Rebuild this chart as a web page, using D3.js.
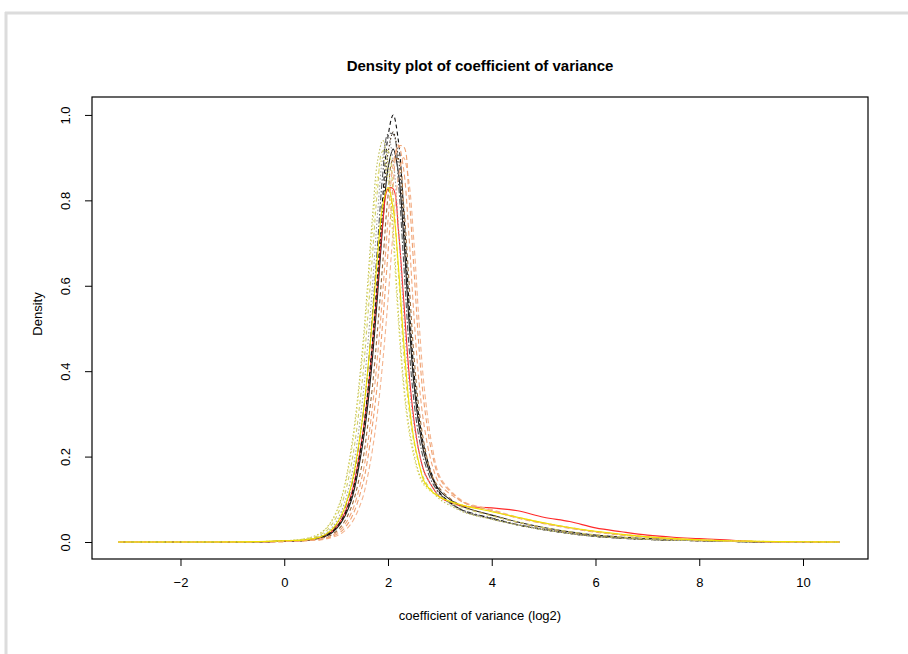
<!DOCTYPE html>
<html>
<head>
<meta charset="utf-8">
<title>Density plot of coefficient of variance</title>
<script src="https://d3js.org/d3.v7.min.js"></script>
<style>
  body { margin: 0; background: #fff; }
  svg { display: block; font-family: "Liberation Sans", Arial, sans-serif; }
</style>
</head>
<body>
<svg id="chart" width="908" height="654"></svg>
<script>
// x grid shared by every density curve (log2 CV)
const xGrid = [-3.2, -2.5, -1.5, -0.5, 0, 0.4, 0.7, 0.9, 1.1, 1.3, 1.5, 1.6, 1.7, 1.8, 1.9, 2.0, 2.1, 2.2, 2.3, 2.4, 2.5, 2.6, 2.7, 2.85,
               3.0, 3.25, 3.5, 4.0, 4.5, 5.0, 5.5, 6.0, 6.5, 7.0, 7.5, 8.0, 8.5, 9.0, 9.5, 10.0, 10.7];

// density values per sample
const sample01 = [0, 0, 0, 0.0005, 0.002, 0.004, 0.011, 0.022, 0.05, 0.11, 0.24, 0.34, 0.47, 0.63, 0.81, 0.95, 1.0, 0.94, 0.78, 0.57, 0.40, 0.29, 0.22, 0.157,
                  0.115, 0.088, 0.071, 0.055, 0.040, 0.029, 0.020, 0.013, 0.009, 0.006, 0.004, 0.003, 0.0015, 0.0005, 0, 0, 0];
const sample02 = [0, 0, 0, 0.0005, 0.002, 0.004, 0.011, 0.021, 0.048, 0.106, 0.23, 0.326, 0.45, 0.605, 0.78, 0.91, 0.96, 0.90, 0.75, 0.55, 0.385, 0.28, 0.21, 0.152,
                  0.112, 0.086, 0.07, 0.054, 0.04, 0.029, 0.02, 0.013, 0.009, 0.006, 0.004, 0.003, 0.0015, 0.0005, 0, 0, 0];
const sample03 = [0, 0, 0, 0.0005, 0.002, 0.004, 0.01, 0.02, 0.046, 0.10, 0.22, 0.31, 0.43, 0.58, 0.745, 0.875, 0.92, 0.865, 0.72, 0.525, 0.37, 0.27, 0.205, 0.15,
                  0.12, 0.095, 0.08, 0.063, 0.047, 0.034, 0.024, 0.016, 0.011, 0.008, 0.006, 0.004, 0.002, 0.001, 0, 0, 0];
const sample04 = [0, 0, 0, 0.0005, 0.002, 0.004, 0.011, 0.023, 0.052, 0.115, 0.244, 0.336, 0.462, 0.605, 0.748, 0.827, 0.827, 0.731, 0.571, 0.403, 0.286, 0.21, 0.164, 0.13,
                  0.105, 0.09, 0.083, 0.08, 0.073, 0.058, 0.048, 0.033, 0.024, 0.016, 0.011, 0.008, 0.005, 0.001, 0, 0, 0];
const sample05 = [0, 0, 0, 0.001, 0.003, 0.005, 0.012, 0.027, 0.062, 0.137, 0.282, 0.39, 0.523, 0.672, 0.79, 0.83, 0.78, 0.647, 0.473, 0.332, 0.24, 0.183, 0.141, 0.118,
                  0.105, 0.093, 0.084, 0.071, 0.058, 0.045, 0.034, 0.025, 0.018, 0.012, 0.008, 0.005, 0.003, 0.002, 0.001, 0.0005, 0];
const sample06 = [0, 0, 0, 0.0005, 0.001, 0.003, 0.007, 0.014, 0.031, 0.07, 0.153, 0.223, 0.316, 0.437, 0.586, 0.753, 0.884, 0.93, 0.874, 0.725, 0.53, 0.372, 0.27, 0.181,
                  0.135, 0.108, 0.09, 0.074, 0.057, 0.044, 0.033, 0.024, 0.017, 0.012, 0.008, 0.005, 0.003, 0.0015, 0, 0, 0];
const sample07 = [0, 0, 0, 0.0005, 0.001, 0.003, 0.005, 0.01, 0.02, 0.045, 0.099, 0.149, 0.216, 0.306, 0.423, 0.567, 0.729, 0.855, 0.90, 0.846, 0.702, 0.513, 0.36, 0.225,
                  0.153, 0.115, 0.092, 0.076, 0.058, 0.045, 0.034, 0.025, 0.018, 0.012, 0.008, 0.005, 0.003, 0.0015, 0.0005, 0, 0];
const sample08 = [0, 0, 0, 0.0005, 0.001, 0.003, 0.006, 0.012, 0.025, 0.058, 0.129, 0.188, 0.273, 0.376, 0.517, 0.677, 0.837, 0.926, 0.926, 0.818, 0.639, 0.451, 0.32, 0.207,
                  0.148, 0.112, 0.09, 0.073, 0.056, 0.043, 0.032, 0.023, 0.016, 0.011, 0.007, 0.005, 0.003, 0.0015, 0, 0, 0];
const sample09 = [0, 0, 0.0005, 0.001, 0.003, 0.0075, 0.021, 0.047, 0.103, 0.226, 0.442, 0.592, 0.761, 0.893, 0.94, 0.884, 0.733, 0.536, 0.376, 0.273, 0.207, 0.16, 0.136, 0.118,
                  0.1, 0.082, 0.068, 0.053, 0.04, 0.029, 0.02, 0.013, 0.009, 0.006, 0.004, 0.003, 0.0015, 0.0005, 0, 0, 0];
const sample10 = [0, 0, 0, 0.001, 0.0025, 0.007, 0.017, 0.038, 0.086, 0.186, 0.372, 0.512, 0.67, 0.828, 0.916, 0.916, 0.809, 0.632, 0.446, 0.316, 0.233, 0.181, 0.146, 0.121,
                  0.107, 0.09, 0.078, 0.061, 0.047, 0.034, 0.024, 0.017, 0.012, 0.008, 0.006, 0.004, 0.002, 0.001, 0, 0, 0];
const sample11 = [0, 0, 0, 0.0008, 0.002, 0.006, 0.014, 0.031, 0.071, 0.157, 0.323, 0.447, 0.599, 0.77, 0.903, 0.95, 0.893, 0.741, 0.542, 0.38, 0.276, 0.209, 0.162, 0.13,
                  0.108, 0.085, 0.07, 0.054, 0.04, 0.029, 0.02, 0.013, 0.009, 0.006, 0.004, 0.003, 0.0015, 0.0005, 0, 0, 0];
const sample12 = [0, 0, 0, 0.0005, 0.0015, 0.0035, 0.0086, 0.016, 0.037, 0.084, 0.182, 0.264, 0.364, 0.50, 0.655, 0.81, 0.896, 0.896, 0.792, 0.619, 0.437, 0.309, 0.228, 0.155,
                  0.125, 0.097, 0.08, 0.062, 0.046, 0.033, 0.023, 0.016, 0.011, 0.007, 0.005, 0.003, 0.002, 0.001, 0, 0, 0];
const sample13 = [0, 0.0003, 0.0005, 0.001, 0.003, 0.007, 0.02, 0.045, 0.099, 0.216, 0.423, 0.567, 0.729, 0.855, 0.90, 0.846, 0.702, 0.513, 0.36, 0.261, 0.198, 0.155, 0.132, 0.116,
                  0.105, 0.092, 0.085, 0.072, 0.057, 0.044, 0.033, 0.024, 0.017, 0.012, 0.008, 0.005, 0.003, 0.002, 0.001, 0.0008, 0];
const sample14 = [0, 0, 0, 0.0008, 0.002, 0.005, 0.012, 0.026, 0.06, 0.133, 0.281, 0.388, 0.534, 0.698, 0.863, 0.955, 0.955, 0.844, 0.66, 0.466, 0.33, 0.243, 0.189, 0.14,
                  0.113, 0.087, 0.072, 0.056, 0.041, 0.03, 0.021, 0.014, 0.009, 0.006, 0.004, 0.003, 0.0015, 0.0005, 0, 0, 0];

const xTicks = [-2, 0, 2, 4, 6, 8, 10];
const yTicks = [0, 0.2, 0.4, 0.6, 0.8, 1.0];

// drawing order + line style (dark ones first, yellow solid last like in the picture)
const series = [
  { v: sample03, col: "#1a1a1a", dash: null },
  { v: sample04, col: "#ff2a2a", dash: null },
  { v: sample14, col: "#555555", dash: "6,2,1.5,2" },
  { v: sample02, col: "#4a321c", dash: "1.5,2" },
  { v: sample01, col: "#111111", dash: "4,3" },
  { v: sample12, col: "#9c6b3c", dash: "4,3" },
  { v: sample11, col: "#a0a0a0", dash: "1.5,2" },
  { v: sample09, col: "#bdbd55", dash: "1.5,2" },
  { v: sample10, col: "#cfcf70", dash: "4,3" },
  { v: sample06, col: "#f2a77c", dash: "5,3" },
  { v: sample07, col: "#f4b48e", dash: "5,3" },
  { v: sample08, col: "#eea070", dash: "5,3" },
  { v: sample13, col: "#e4df66", dash: "1.5,2.5" },
  { v: sample05, col: "#efe000", dash: null }
];

const svg = d3.select("#chart");

// light grey frame of the screenshot
svg.append("line").attr("x1", 6).attr("x2", 6).attr("y1", 12).attr("y2", 654)
  .attr("stroke", "#dcdcdc").attr("stroke-width", 3);
svg.append("line").attr("x1", 5).attr("x2", 908).attr("y1", 13).attr("y2", 13)
  .attr("stroke", "#dcdcdc").attr("stroke-width", 3);

const L = 92, R = 868, T = 97, B = 559;
const x = d3.scaleLinear([-3.706, 11.253], [L, R]);
const y = d3.scaleLinear([-0.0398, 1.042], [B, T]);

const line = d3.line()
  .x((d, i) => x(xGrid[i]))
  .y(d => y(d))
  .curve(d3.curveCatmullRom.alpha(0.5));

const g = svg.append("g");
g.append("defs").append("clipPath").attr("id", "clip")
  .append("rect").attr("x", L).attr("y", T).attr("width", R - L).attr("height", B - T);

g.append("g").attr("clip-path", "url(#clip)")
  .selectAll("path")
  .data(series)
  .join("path")
    .attr("d", s => line(s.v))
    .attr("fill", "none")
    .attr("stroke", s => s.col)
    .attr("stroke-width", 1.1)
    .attr("stroke-dasharray", s => s.dash);

// box
svg.append("rect").attr("x", L).attr("y", T).attr("width", R - L).attr("height", B - T)
  .attr("fill", "none").attr("stroke", "#000").attr("stroke-width", 1.2);

// axes, R style: no domain line, the box does it
const xAxis = svg.append("g").attr("transform", `translate(0,${B})`)
  .call(d3.axisBottom(x).tickValues(xTicks).tickSize(7).tickPadding(12).tickFormat(d => d < 0 ? "\u2212" + Math.abs(d) : d));
xAxis.select(".domain").remove();
xAxis.selectAll("text").attr("font-size", 13).attr("font-family", "Liberation Sans, Arial, sans-serif").attr("fill", "#000");

const yAxis = svg.append("g").attr("transform", `translate(${L},0)`)
  .call(d3.axisLeft(y).tickValues(yTicks).tickSize(7).tickFormat(d3.format(".1f")));
yAxis.select(".domain").remove();
yAxis.selectAll("text")
  .attr("font-size", 13).attr("font-family", "Liberation Sans, Arial, sans-serif").attr("fill", "#000")
  .attr("text-anchor", "middle").attr("dy", null).attr("x", null)
  .attr("transform", "translate(-22,0) rotate(-90)");

// titles
svg.append("text").attr("x", (L + R) / 2).attr("y", 71).attr("text-anchor", "middle")
  .attr("font-size", 15).attr("font-weight", "bold").text("Density plot of coefficient of variance");
svg.append("text").attr("x", (L + R) / 2).attr("y", 620).attr("text-anchor", "middle")
  .attr("font-size", 13).text("coefficient of variance (log2)");
svg.append("text").attr("transform", `translate(42,${(T + B) / 2 - 14}) rotate(-90)`).attr("text-anchor", "middle")
  .attr("font-size", 13).text("Density");
</script>
</body>
</html>
